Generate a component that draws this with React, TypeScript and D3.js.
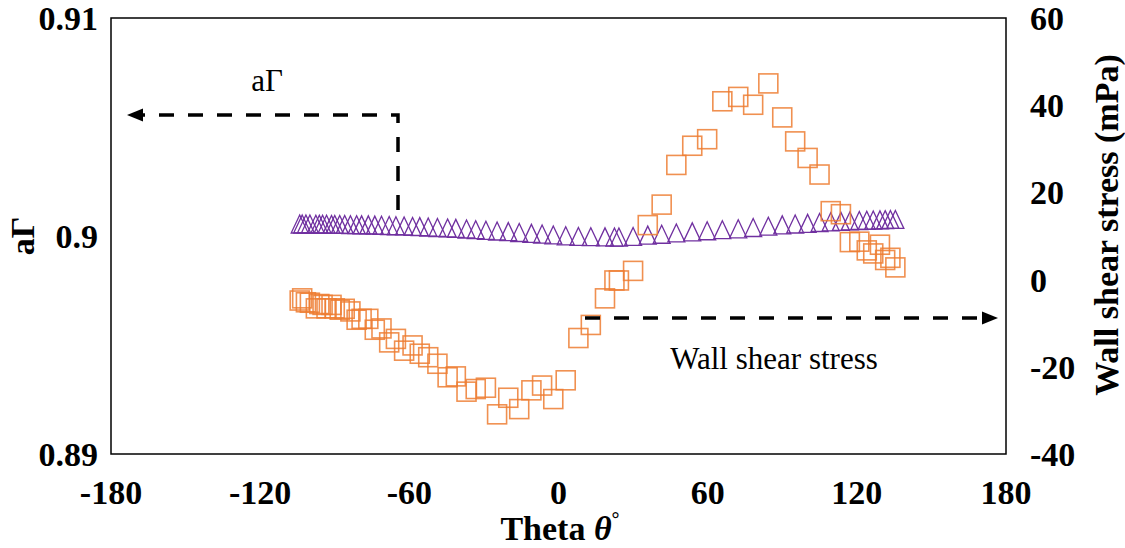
import React, { useEffect } from 'react';
import * as d3 from 'd3';

// Theta positions (deg), shared by both series
const theta = [
  -104.1, -103.1, -101.6, -100.0, -97.6, -96.2, -94.9, -93.3, -91.3, -90.0,
  -88.0, -86.0, -83.7, -81.2, -79.2, -76.5, -73.9, -71.2, -68.1, -65.4,
  -62.1, -58.7, -55.8, -52.4, -48.7, -44.6, -41.3, -37.0, -33.3, -29.2,
  -24.7, -20.2, -15.8, -10.9, -6.6, -2.1, 2.9, 8.0, 13.0, 18.7,
  22.5, 24.3, 30.0, 35.9, 41.5, 47.4, 53.8, 59.8, 65.9, 72.3,
  78.3, 84.4, 90.0, 95.2, 100.2, 105.0, 109.5, 113.6, 117.2, 121.0,
  124.0, 126.6, 129.3, 131.4, 133.5, 135.5,
];

// Wall shear stress (mPa), right axis
const wss = [
  -4.8, -4.3, -5.2, -5.3, -6.6, -5.6, -5.8, -6.6, -5.8, -6.6,
  -6.9, -6.7, -7.3, -9.2, -9.0, -9.0, -11.5, -11.2, -14.4, -13.6,
  -16.3, -15.1, -17.0, -17.8, -19.3, -22.4, -22.2, -25.7, -25.1, -24.8,
  -30.9, -27.1, -29.7, -25.4, -24.3, -27.4, -23.1, -13.4, -10.4, -4.3,
  -0.2, -0.2, 2.0, 12.5, 17.2, 26.3, 30.7, 32.2, 40.9, 41.9,
  40.1, 45.0, 37.2, 31.7, 27.9, 24.1, 15.7, 15.0, 8.6, 8.7,
  6.7, 6.0, 8.0, 4.5, 5.0, 2.8,
];

// aΓ, left axis
const aGamma = [
  0.90055, 0.90055, 0.90055, 0.90055, 0.90054, 0.90054, 0.90054, 0.90054, 0.90053, 0.90053,
  0.90053, 0.90053, 0.90052, 0.90052, 0.90051, 0.90051, 0.9005, 0.90049, 0.90048, 0.90047,
  0.90046, 0.90044, 0.90043, 0.90041, 0.90039, 0.90037, 0.90035, 0.90032, 0.90029, 0.90026,
  0.90023, 0.9002, 0.90016, 0.90012, 0.90009, 0.90005, 0.90001, 0.89998, 0.89997, 0.89996,
  0.89995, 0.89995, 0.89998, 0.90004, 0.90008, 0.90014, 0.90019, 0.90024, 0.90029, 0.90033,
  0.90039, 0.90045, 0.90051, 0.90055, 0.90058, 0.90062, 0.90065, 0.90067, 0.90069, 0.90071,
  0.90072, 0.90073, 0.90074, 0.90075, 0.90076, 0.90076,
];

const xTicks = [-180, -120, -60, 0, 60, 120, 180];
const leftTicks = [0.89, 0.9, 0.91];
const rightTicks = [-40, -20, 0, 20, 40, 60];

const width = 1125;
const height = 548;
const plot = { left: 111, right: 1006, top: 18, bottom: 454 };

const serif = '"Liberation Serif", "Times New Roman", serif';
const orange = '#ED7D31';
const purple = '#7030A0';

export default function App() {
  useEffect(() => {
    document.body.style.margin = '0';
  }, []);

  const x = d3.scaleLinear().domain([-180, 180]).range([plot.left, plot.right]);
  const yL = d3.scaleLinear().domain([0.89, 0.91]).range([plot.bottom, plot.top]);
  const yR = d3.scaleLinear().domain([-40, 60]).range([plot.bottom, plot.top]);

  const triW = 17;
  const triH = 18;
  const sq = 19;

  const triPath = (cx: number, cy: number) =>
    `M${cx},${cy - triH / 2}L${cx + triW / 2},${cy + triH / 2}L${cx - triW / 2},${cy + triH / 2}Z`;

  const fontSize = 34;

  return (
    <svg width={width} height={height} style={{ display: 'block', background: '#fff' }}>
      {/* frame */}
      <rect
        x={plot.left}
        y={plot.top}
        width={plot.right - plot.left}
        height={plot.bottom - plot.top}
        fill="none"
        stroke="#000"
        strokeWidth={1.5}
      />

      {/* aΓ triangles */}
      <g fill="none" stroke={purple} strokeWidth={1.3}>
        {theta.map((t, i) => (
          <path key={i} d={triPath(x(t), yL(aGamma[i]))} />
        ))}
      </g>

      {/* wall shear stress squares */}
      <g fill="none" stroke={orange} strokeWidth={1.6} strokeOpacity={0.85}>
        {theta.map((t, i) => (
          <rect key={i} x={x(t) - sq / 2} y={yR(wss[i]) - sq / 2} width={sq} height={sq} />
        ))}
      </g>

      {/* annotation arrows */}
      <g stroke="#000" strokeWidth={3.5} strokeDasharray="15,14" fill="none">
        <path d="M398,210L398,115L140,115" />
        <path d="M585,318L985,318" />
      </g>
      <path d="M127,115L143,108.5L143,121.5Z" fill="#000" />
      <path d="M998,318L982,311.5L982,324.5Z" fill="#000" />

      <text x={267} y={91} fontFamily={serif} fontSize={31} textAnchor="middle">
        aΓ
      </text>
      <text x={774} y={369} fontFamily={serif} fontSize={31} textAnchor="middle">
        Wall shear stress
      </text>

      {/* x tick labels */}
      <g fontFamily={serif} fontSize={fontSize} fontWeight="bold" textAnchor="middle">
        {xTicks.map((t) => (
          <text key={t} x={x(t)} y={504}>
            {t}
          </text>
        ))}
      </g>

      {/* left tick labels */}
      <g fontFamily={serif} fontSize={fontSize} fontWeight="bold" textAnchor="end">
        {leftTicks.map((t) => (
          <text key={t} x={98} y={yL(t) + 12}>
            {String(t)}
          </text>
        ))}
      </g>

      {/* right tick labels */}
      <g fontFamily={serif} fontSize={fontSize} fontWeight="bold" textAnchor="start">
        {rightTicks.map((t) => (
          <text key={t} x={1030} y={yR(t) + 12}>
            {t}
          </text>
        ))}
      </g>

      {/* axis titles */}
      <text
        x={560}
        y={540}
        fontFamily={serif}
        fontSize={fontSize}
        fontWeight="bold"
        textAnchor="middle"
      >
        Theta <tspan fontStyle="italic">θ</tspan>
        <tspan fontSize={20} dy={-14}>°</tspan>
      </text>
      <text
        transform={`translate(34,${(plot.top + plot.bottom) / 2}) rotate(-90)`}
        fontFamily={serif}
        fontSize={fontSize}
        fontWeight="bold"
        textAnchor="middle"
      >
        aΓ
      </text>
      <text
        transform={`translate(1118,225) rotate(-90)`}
        fontFamily={serif}
        fontSize={fontSize}
        fontWeight="bold"
        textAnchor="middle"
      >
        Wall shear stress (mPa)
      </text>
    </svg>
  );
}
